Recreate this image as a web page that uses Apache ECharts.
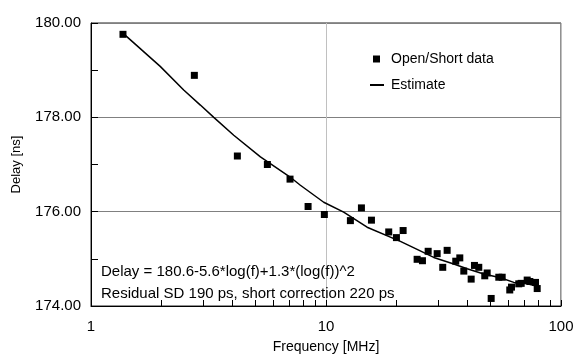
<!DOCTYPE html>
<html><head><meta charset="utf-8">
<script src="https://cdn.jsdelivr.net/npm/echarts@6/dist/echarts.min.js"></script>
<style>html,body{margin:0;padding:0;background:#fff}#c{width:573px;height:358px}</style>
</head><body><div id="c"></div>
<script>
// Measured data (frequency in MHz, delay in ns)
const freqMHz = [1.368, 2.753, 4.196, 5.63, 7.03, 8.39, 9.84, 12.70, 14.15, 15.61, 18.49, 19.94, 21.29, 24.42, 25.73, 27.21, 29.72, 31.39, 32.77, 35.66, 37.10, 38.58, 41.47, 42.83, 44.68, 47.38, 48.51, 50.45, 54.36, 56.2, 60.53, 61.56, 66.1, 67.7, 71.8, 73.7, 77.9, 79.2];
const delayNs = [179.76, 178.89, 177.18, 177.00, 176.69, 176.11, 175.94, 175.81, 176.08, 175.82, 175.57, 175.45, 175.60, 174.99, 174.96, 175.16, 175.11, 174.82, 175.18, 174.95, 175.02, 174.74, 174.57, 174.86, 174.82, 174.64, 174.70, 174.16, 174.61, 174.61, 174.34, 174.40, 174.47, 174.48, 174.55, 174.52, 174.50, 174.37];
// Estimate curve
const estFreqMHz = [1.37, 1.97, 2.48, 2.92, 3.33, 4.05, 5.26, 7.01, 7.78, 9.78, 11.89, 14.96, 20.73, 24.42, 28.74, 34.96, 39.86, 46.92, 55.26, 62.95, 71.8, 79.2];
const estDelayNs = [179.78, 179.08, 178.58, 178.26, 178.00, 177.62, 177.16, 176.74, 176.56, 176.20, 175.99, 175.67, 175.37, 175.20, 175.03, 174.89, 174.79, 174.68, 174.60, 174.50, 174.47, 174.42];
const xMinorTicks = [2, 3, 4, 5, 6, 7, 8, 9, 20, 30, 40, 50, 60, 70, 80, 90];
const seriesNames = ['Open/Short data', 'Estimate'];
const noteLines = ['Delay = 180.6-5.6*log(f)+1.3*(log(f))^2', 'Residual SD 190 ps, short correction 220 ps'];
const xName = 'Frequency [MHz]';
const yName = 'Delay [ns]';

const FONT = '"Liberation Sans", Arial, sans-serif';
const chart = echarts.init(document.getElementById('c'), null, {renderer: 'canvas'});
const option = {
  animation: false,
  textStyle: {fontFamily: FONT},
  grid: {left: 91, right: 12, top: 23, bottom: 52, show: true, borderColor: '#222', borderWidth: 1,
         containLabel: false, outerBoundsMode: 'none'},
  xAxis: {
    type: 'log', logBase: 10, min: 1, max: 100,
    name: xName, nameLocation: 'middle', nameGap: 34,
    nameTextStyle: {fontSize: 14, color: '#000', fontFamily: FONT},
    axisLine: {lineStyle: {color: '#000'}},
    axisTick: {inside: true, length: 6, lineStyle: {color: '#000'}},
    axisLabel: {fontSize: 15, color: '#000', margin: 13, fontFamily: FONT},
    splitLine: {show: true, lineStyle: {color: '#c0c0c0', width: 1}}
  },
  yAxis: {
    type: 'value', min: 174, max: 180, interval: 2,
    name: yName, nameLocation: 'middle', nameGap: 68,
    nameTextStyle: {fontSize: 13, color: '#000', fontFamily: FONT},
    axisLine: {show: true, lineStyle: {color: '#000'}},
    axisTick: {show: true, inside: true, length: 7, lineStyle: {color: '#000'}},
    minorTick: {show: true, splitNumber: 2, length: 7, lineStyle: {color: '#000'}},
    axisLabel: {fontSize: 15, color: '#000', margin: 10, fontFamily: FONT, formatter: v => v.toFixed(2)},
    splitLine: {show: true, lineStyle: {color: '#808080', width: 1}}
  },
  legend: [
    {data: [{name: seriesNames[0], icon: 'rect'}], left: 373, top: 52, padding: 0, itemWidth: 7, itemHeight: 7,
     selectedMode: false, textStyle: {fontSize: 14, color: '#000', fontFamily: FONT, padding: [0, 0, 0, 6]}},
    {data: [{name: seriesNames[1], icon: 'rect'}], left: 370, top: 78, padding: 0, itemWidth: 14, itemHeight: 2,
     selectedMode: false, textStyle: {fontSize: 14, color: '#000', fontFamily: FONT, padding: [0, 0, 0, 2]}}
  ],
  series: [
    {name: seriesNames[1], type: 'line', data: estFreqMHz.map((f, i) => [f, estDelayNs[i]]),
     showSymbol: false, symbol: 'none', smooth: false,
     lineStyle: {color: '#000', width: 1.5}, itemStyle: {color: '#000'}, z: 2},
    {name: seriesNames[0], type: 'scatter', data: freqMHz.map((f, i) => [f, delayNs[i]]),
     symbol: 'rect', symbolSize: 7, itemStyle: {color: '#000', opacity: 1}, z: 3}
  ]
};
chart.setOption(option);

// Minor log ticks on x axis and the annotation text
const yBottom = chart.convertToPixel({yAxisIndex: 0}, 174);
const elements = xMinorTicks.map(v => {
  const x = Math.round(chart.convertToPixel({xAxisIndex: 0}, v) - 0.5) + 0.5;
  return {type: 'line', silent: true, shape: {x1: x, y1: yBottom, x2: x, y2: yBottom - 6},
          style: {stroke: '#000', lineWidth: 1}};
});
const xText = chart.convertToPixel({xAxisIndex: 0}, 1) + 10;
noteLines.forEach((t, i) => {
  elements.push({type: 'text', silent: true, x: xText, y: 272 + i * 22,
    style: {text: t, fill: '#000', font: '15px ' + FONT, verticalAlign: 'middle', align: 'left'}});
});
chart.setOption({graphic: {elements}});
</script>
</body></html>
